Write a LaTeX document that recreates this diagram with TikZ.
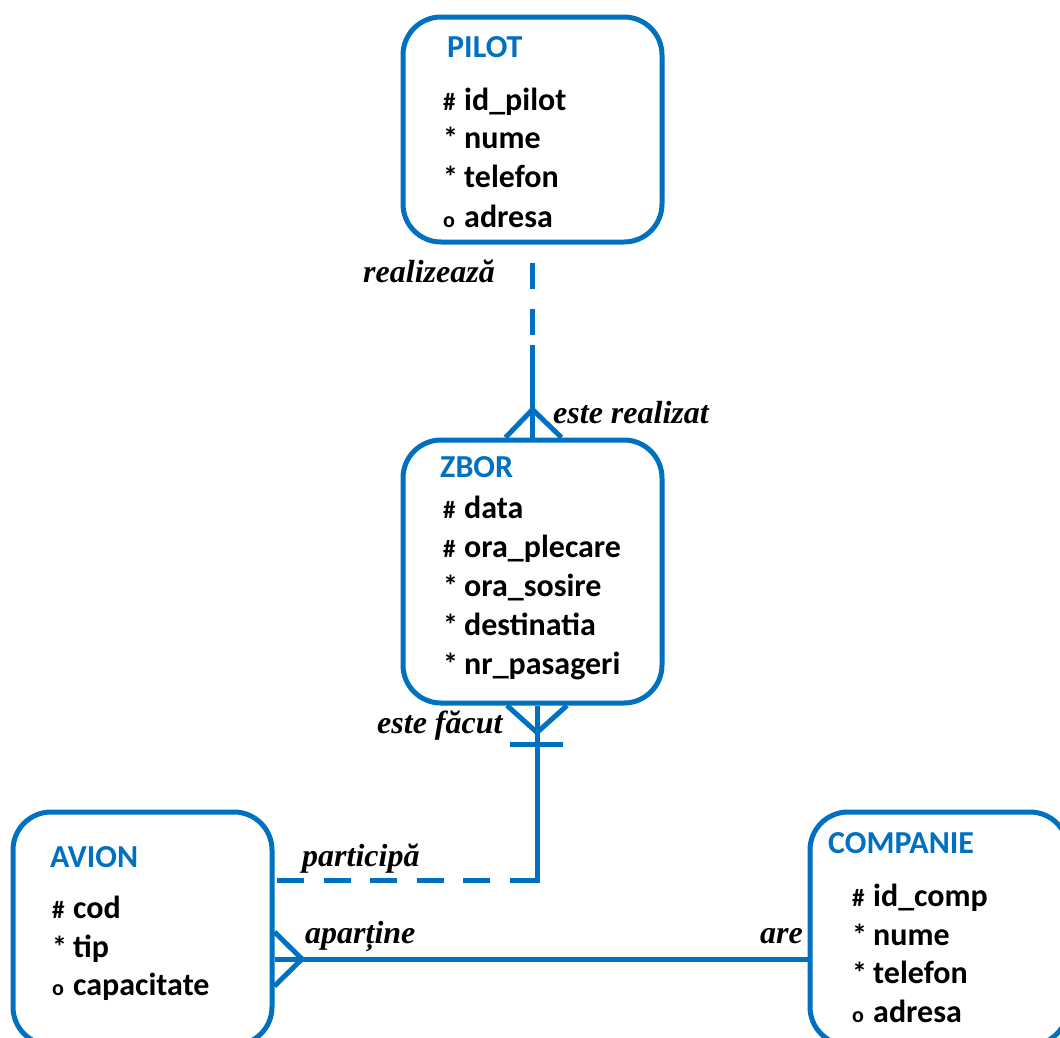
\documentclass[tikz,border=0pt]{standalone}
\usepackage{fontspec}
\setmainfont{Liberation Serif}
\newfontfamily\calfont{Carlito}
\usetikzlibrary{calc}
\definecolor{erblue}{RGB}{0,112,192}
\newcommand{\attrline}[3]{\makebox[21pt][l]{\fontsize{#1}{#1}\selectfont #2}#3}
\begin{document}
\begin{tikzpicture}[x=1pt,y=-1pt]
    \tikzstyle{entity}=[draw=erblue,line width=5pt,rounded corners=38pt,inner sep=0pt]
    \tikzstyle{title}=[anchor=base west,inner sep=0pt,text=erblue,font=\calfont\bfseries\fontsize{32}{32}\selectfont]
    \tikzstyle{attr}=[anchor=base west,inner sep=0pt,font=\calfont\bfseries\fontsize{32}{32}\selectfont]
    \tikzstyle{role}=[anchor=base west,inner sep=0pt,font=\bfseries\itshape\fontsize{32}{32}\selectfont]
    \tikzstyle{rel}=[draw=erblue,line width=5pt]
    \clip (0,0) rectangle (1060,1037);
    % entities
    \node (pilot)[entity,minimum width=259pt,minimum height=225pt] at (532.5,129.5) {};
    \node (zbor)[entity,minimum width=259pt,minimum height=263pt] at (532.5,571.5) {};
    \node (avion)[entity,minimum width=259pt,minimum height=233pt] at (142.5,928.5) {};
    \node (companie)[entity,minimum width=258pt,minimum height=233pt] at (939,928.5) {};
    % texts
    \node (pilot t)[title] at (447,57) {PILOT};
    \node (pilot a1)[attr] at (443,110) {\attrline{25}{\#}{id\_pilot}};
    \node (pilot a2)[attr] at (443,148) {\attrline{30}{*}{nume}};
    \node (pilot a3)[attr] at (443,187) {\attrline{30}{*}{telefon}};
    \node (pilot a4)[attr] at (443,227) {\attrline{22}{o}{adresa}};
    \node (zbor t)[title] at (440,477) {ZBOR};
    \node (zbor a1)[attr] at (443,518) {\attrline{25}{\#}{data}};
    \node (zbor a2)[attr] at (443,557) {\attrline{25}{\#}{ora\_plecare}};
    \node (zbor a3)[attr] at (443,596) {\attrline{30}{*}{ora\_sosire}};
    \node (zbor a4)[attr] at (443,635) {\attrline{30}{*}{destinatia}};
    \node (zbor a5)[attr] at (443,674) {\attrline{30}{*}{nr\_pasageri}};
    \node (avion t)[title] at (50,867) {AVION};
    \node (avion a1)[attr] at (52,918) {\attrline{25}{\#}{cod}};
    \node (avion a2)[attr] at (52,957) {\attrline{30}{*}{tip}};
    \node (avion a3)[attr] at (52,995) {\attrline{22}{o}{capacitate}};
    \node (companie t)[title] at (828,853) {COMPANIE};
    \node (companie a1)[attr] at (852,906) {\attrline{25}{\#}{id\_comp}};
    \node (companie a2)[attr] at (852,945) {\attrline{30}{*}{nume}};
    \node (companie a3)[attr] at (852,983) {\attrline{30}{*}{telefon}};
    \node (companie a4)[attr] at (852,1022) {\attrline{22}{o}{adresa}};
    % pilot - zbor
    \coordinate (pz) at (532.5,345);
    \coordinate (zt) at ($(zbor.north)+(0,-28)$);
    \draw [rel,dash pattern=on 26pt off 20pt,dash phase=28pt] (pilot.south) -- (pz);
    \draw [rel] (pz) -- (zbor.north);
    \draw [rel] ($(zbor.north)+(-27,0)$) -- (zt) -- ($(zbor.north)+(29,0)$);
    \node (realizeaza)[role] at (363,282) {realizează};
    \node (este realizat)[role] at (553,423) {este realizat};
    % zbor - avion
    \coordinate (zb) at ($(zbor.south)+(4.5,0)$);
    \coordinate (zba) at ($(zb)+(0,27)$);
    \coordinate (zc) at (537,880);
    \draw [rel] (zb) -- ($(zc)+(0,2.5)$);
    \draw [rel] ($(zb)+(-30,0)$) -- (zba) -- ($(zb)+(30,0)$);
    \draw [rel] ($(zb)+(-27,39)$) -- ($(zb)+(26,39)$);
    \draw [rel,dash pattern=on 27pt off 19.6pt] (zc) -- (zc -| avion.east);
    \node (este facut)[role] at (377,733) {este făcut};
    \node (participa)[role] at (302,866) {participă};
    % avion - companie
    \coordinate (ac) at (302,959);
    \draw [rel] (ac -| avion.east) -- (ac -| companie.west);
    \draw [rel] ($(avion.east |- ac)+(0,-27)$) -- (ac) -- ($(avion.east |- ac)+(0,27)$);
    \node (apartine)[role] at (305,943) {aparține};
    \node (are)[role] at (760,943) {are};
\end{tikzpicture}
\end{document}
